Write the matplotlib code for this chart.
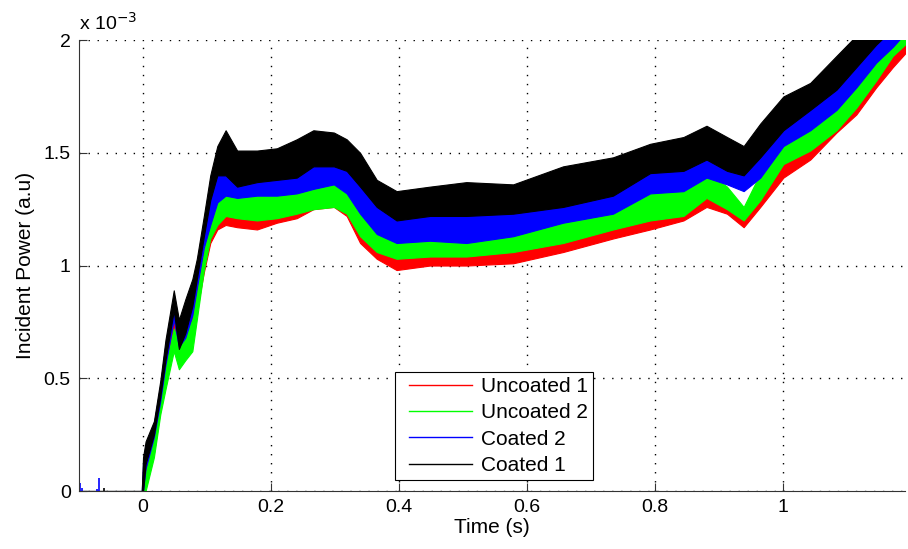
"""
plot.py - incident power vs time, coated vs uncoated samples
Saves: out.png
"""

import matplotlib.pyplot as plt
from matplotlib.legend_handler import HandlerLine2D

t = [-0.10, -0.002, 0.0, 0.004, 0.017, 0.027, 0.035, 0.048, 0.056, 0.066,
     0.077, 0.084, 0.095, 0.105, 0.116, 0.129, 0.147, 0.178, 0.209, 0.24,
     0.266, 0.298, 0.318, 0.339, 0.365, 0.396, 0.448, 0.505, 0.578, 0.656,
     0.734, 0.792, 0.844, 0.88, 0.912, 0.938, 0.964, 1.0, 1.042, 1.083,
     1.114, 1.145, 1.171, 1.19]

# Lower / upper edge of each noisy trace, in units of 1e-3
uncoated1_lo = [0, 0, 0, 0.02, 0.17, 0.36, 0.50, 0.66, 0.60, 0.62,
                0.66, 0.80, 0.97, 1.10, 1.16, 1.18, 1.17, 1.16, 1.19, 1.21,
                1.25, 1.26, 1.22, 1.10, 1.03, 0.98, 1.00, 1.00, 1.01, 1.06,
                1.12, 1.16, 1.20, 1.26, 1.23, 1.17, 1.26, 1.39, 1.47, 1.59,
                1.67, 1.79, 1.88, 1.94]
uncoated1_hi = [0, 0, 0, 0.10, 0.26, 0.44, 0.60, 0.76, 0.70, 0.73,
                0.80, 0.90, 1.06, 1.19, 1.25, 1.29, 1.27, 1.25, 1.27, 1.30,
                1.34, 1.36, 1.32, 1.20, 1.13, 1.09, 1.07, 1.08, 1.10, 1.16,
                1.21, 1.25, 1.29, 1.35, 1.31, 1.25, 1.36, 1.48, 1.56, 1.67,
                1.78, 1.90, 1.97, 2.03]

uncoated2_lo = [0, 0, 0, 0.0, 0.15, 0.34, 0.45, 0.62, 0.54, 0.58,
                0.62, 0.76, 0.98, 1.12, 1.18, 1.22, 1.21, 1.20, 1.21, 1.23,
                1.25, 1.26, 1.23, 1.13, 1.06, 1.03, 1.04, 1.04, 1.06, 1.10,
                1.16, 1.20, 1.22, 1.30, 1.25, 1.20, 1.29, 1.45, 1.51, 1.60,
                1.70, 1.82, 1.93, 1.98]
uncoated2_hi = [0, 0, 0, 0.08, 0.24, 0.42, 0.55, 0.72, 0.66, 0.70,
                0.76, 0.88, 1.06, 1.22, 1.31, 1.37, 1.33, 1.31, 1.31, 1.34,
                1.36, 1.37, 1.34, 1.23, 1.15, 1.11, 1.13, 1.14, 1.14, 1.20,
                1.26, 1.32, 1.35, 1.42, 1.35, 1.26, 1.41, 1.54, 1.60, 1.69,
                1.82, 1.93, 2.00, 2.06]

coated2_lo = [0, 0, 0, 0.10, 0.24, 0.40, 0.56, 0.76, 0.64, 0.68,
              0.78, 0.90, 1.08, 1.18, 1.28, 1.31, 1.30, 1.31, 1.31, 1.32,
              1.34, 1.36, 1.32, 1.23, 1.14, 1.10, 1.11, 1.10, 1.13, 1.19,
              1.23, 1.32, 1.33, 1.39, 1.36, 1.33, 1.39, 1.53, 1.60, 1.69,
              1.79, 1.90, 1.97, 2.03]
coated2_hi = [0, 0, 0.12, 0.20, 0.30, 0.47, 0.65, 0.85, 0.74, 0.80,
              0.90, 0.99, 1.18, 1.30, 1.42, 1.47, 1.45, 1.46, 1.47, 1.48,
              1.50, 1.51, 1.47, 1.39, 1.29, 1.23, 1.26, 1.26, 1.28, 1.35,
              1.38, 1.47, 1.48, 1.53, 1.49, 1.45, 1.55, 1.66, 1.75, 1.84,
              1.93, 2.02, 2.10, 2.15]

coated1_lo = [0, 0, 0, 0.12, 0.25, 0.42, 0.58, 0.80, 0.63, 0.70,
              0.82, 0.94, 1.13, 1.29, 1.40, 1.40, 1.35, 1.37, 1.38, 1.39,
              1.44, 1.44, 1.42, 1.35, 1.26, 1.20, 1.22, 1.22, 1.23, 1.26,
              1.31, 1.41, 1.42, 1.47, 1.42, 1.40, 1.48, 1.60, 1.69, 1.78,
              1.88, 1.98, 2.05, 2.10]
coated1_hi = [0, 0, 0.15, 0.22, 0.31, 0.49, 0.67, 0.89, 0.76, 0.85,
              0.94, 1.03, 1.22, 1.40, 1.53, 1.60, 1.51, 1.51, 1.52, 1.56,
              1.60, 1.59, 1.56, 1.50, 1.38, 1.33, 1.35, 1.37, 1.36, 1.44,
              1.48, 1.54, 1.57, 1.62, 1.57, 1.53, 1.63, 1.75, 1.81, 1.93,
              2.02, 2.12, 2.20, 2.25]

# small blips before the trigger
blip_t = [-0.098, -0.096, -0.072, -0.069]
blip_h = [0.034, 0.012, 0.010, 0.056]
blip_black_t = [-0.061]
blip_black_h = [0.012]

labels = ["Uncoated 1", "Uncoated 2", "Coated 2", "Coated 1"]
colors = ["#ff0000", "#00ff00", "#0000ff", "#000000"]

x_ticks = [0, 0.2, 0.4, 0.6, 0.8, 1.0]
x_tick_labels = ["0", "0.2", "0.4", "0.6", "0.8", "1"]
y_ticks = [0, 0.5, 1.0, 1.5, 2.0]
y_tick_labels = ["0", "0.5", "1", "1.5", "2"]


def main():
    plt.rcParams["font.family"] = ["Liberation Sans", "DejaVu Sans"]
    plt.rcParams["lines.scale_dashes"] = False

    fig = plt.figure(figsize=(9.08, 5.49), dpi=100)
    ax = fig.add_axes([0.087, 0.1056, 0.9097, 0.8214])

    series = [
        (uncoated1_lo, uncoated1_hi),
        (uncoated2_lo, uncoated2_hi),
        (coated2_lo, coated2_hi),
        (coated1_lo, coated1_hi),
    ]

    for (lo, hi), color, label in zip(series, colors, labels):
        ax.fill_between(t, lo, hi, color=color, linewidth=0.8, zorder=2)
        ax.plot([], [], color=color, linewidth=1.0, label=label)

    ax.vlines(blip_t, 0, blip_h, color=colors[2], linewidth=1.2, zorder=2)
    ax.vlines(blip_black_t, 0, blip_black_h, color=colors[3], linewidth=1.2, zorder=2)

    ax.set_xlim(-0.1, 1.19)
    ax.set_ylim(0, 2.0)
    ax.set_xticks(x_ticks)
    ax.set_xticklabels(x_tick_labels)
    ax.set_yticks(y_ticks)
    ax.set_yticklabels(y_tick_labels)

    ax.tick_params(direction="in", length=6, width=0.8, labelsize=14,
                   colors="#333333", labelcolor="black", pad=6)
    for side in ["top", "right"]:
        ax.spines[side].set_visible(False)
    for side in ["left", "bottom"]:
        ax.spines[side].set_color("#333333")
        ax.spines[side].set_linewidth(0.8)

    ax.grid(True, color="black", linestyle=(0, (1, 5.5)), linewidth=1.0)
    ax.set_axisbelow(True)

    ax.set_xlabel("Time (s)", fontsize=15, labelpad=1)
    ax.set_ylabel("Incident Power (a.u)", fontsize=15, labelpad=6)
    ax.text(0.0, 1.015, r"x 10$^{-3}$", transform=ax.transAxes,
            fontsize=14, ha="left", va="bottom")

    leg = ax.legend(loc="lower left", bbox_to_anchor=(0.3826, 0.0244),
                    fontsize=15, handlelength=3.46, fancybox=False,
                    framealpha=1, edgecolor="black", borderpad=0.25,
                    labelspacing=0.35, handletextpad=0.4, borderaxespad=0,
                    handler_map={plt.Line2D: HandlerLine2D(xpad=0.4)})
    leg.get_frame().set_linewidth(0.8)

    fig.savefig("out.png", dpi=100)


if __name__ == "__main__":
    main()
